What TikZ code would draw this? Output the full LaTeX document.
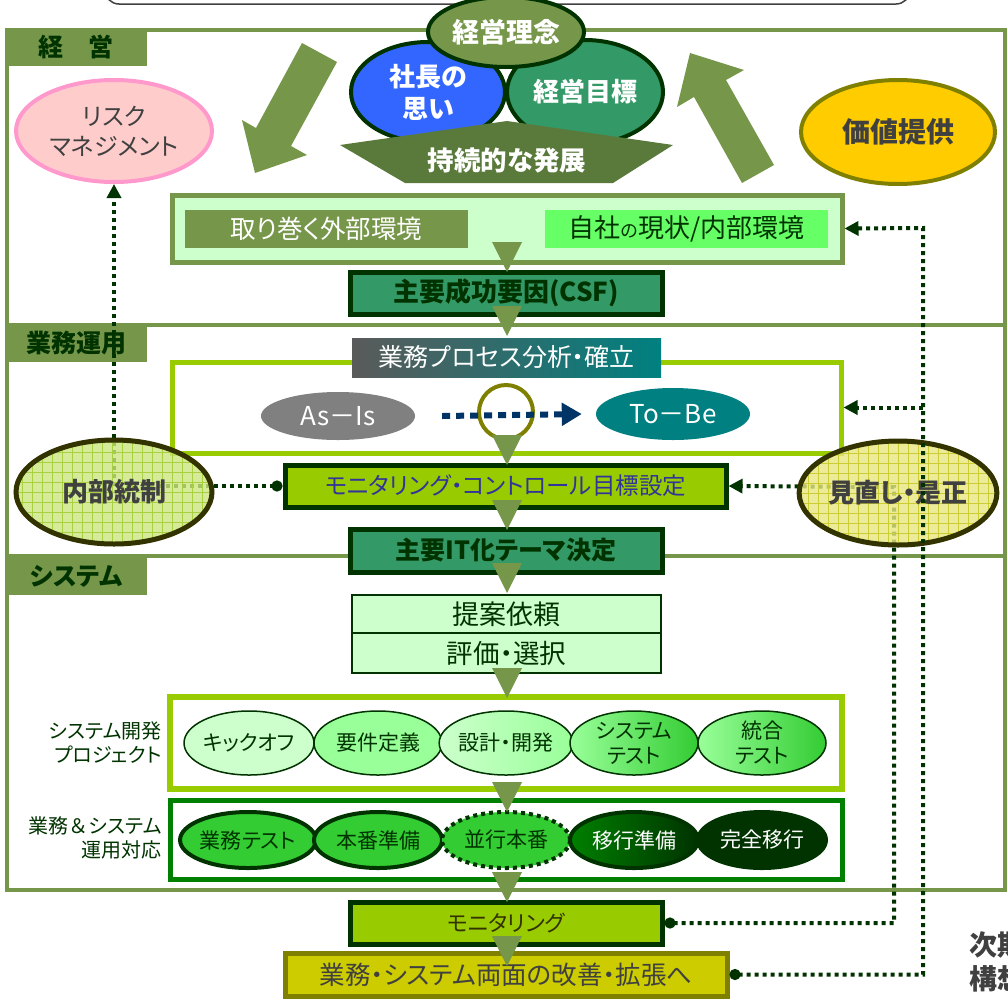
\documentclass[tikz,border=0pt]{standalone}
\usepackage{fontspec}
\setmainfont{Noto Sans CJK JP}[RawFeature=+palt]
\newfontfamily\jpfull{Noto Sans CJK JP}
\usetikzlibrary{positioning,shapes.geometric,arrows.meta,calc}
\definecolor{olv}{HTML}{76964A}
\definecolor{dolv}{HTML}{5A7A3C}
\definecolor{dkg}{HTML}{003300}
\definecolor{seag}{HTML}{339966}
\definecolor{yg}{HTML}{99CC00}
\definecolor{lgr}{HTML}{CCFFCC}
\definecolor{mgr}{HTML}{99FF99}
\definecolor{vgr}{HTML}{33CC33}
\definecolor{bgr}{HTML}{66FF66}
\definecolor{gr}{HTML}{008000}
\definecolor{oliv}{HTML}{808000}
\definecolor{txtg}{HTML}{404040}
\definecolor{brn}{HTML}{333300}
\definecolor{blu}{HTML}{3366FF}
\definecolor{pnk}{HTML}{FF99CC}
\definecolor{lpnk}{HTML}{FFCCCC}
\definecolor{gold}{HTML}{FFCC00}
\definecolor{teal2}{HTML}{008080}
\definecolor{gry}{HTML}{5A5A5A}
\definecolor{navy2}{HTML}{003366}
\definecolor{purp}{HTML}{333399}
\definecolor{ylw}{HTML}{CCCC00}
\definecolor{gfill}{HTML}{CCE680}
\definecolor{yfill}{HTML}{E6E680}
\definecolor{ggrid}{HTML}{A8D040}
\definecolor{ygrid}{HTML}{CCCC33}
\newcommand{\fsz}[1]{\fontsize{#1}{#1}\selectfont}
\tikzset{
  sect/.style={draw=olv, line width=4},
  tab/.style={fill=olv, text=dkg, font=\bfseries\fsz{25}, anchor=north west, minimum width=142, minimum height=38, inner sep=0},
  box/.style={draw=dkg, line width=5, inner sep=0, text=dkg},
  oval/.style={ellipse, inner sep=0, align=center},
  dots/.style={dkg, line width=4, dash pattern=on 4pt off 4pt},
  arrtip/.style={-{Triangle[length=14pt,width=14pt]}},
  dotarr/.style={{Circle[length=11pt]}-{Triangle[length=14pt,width=14pt]}},
  gridoval/.style={oval, draw=brn, line width=5, fill opacity=0.8, text opacity=1, minimum width=196, minimum height=104, font=\bfseries\fsz{26}, text=txtg},
  pa/.style={fill=lgr}, pb/.style={fill=mgr}, pc/.style={left color=lgr, right color=mgr},
  pd/.style={left color=mgr, right color=vgr},
  opsoval/.style={oval, draw=dkg, line width=4, minimum width=128, minimum height=56, text=dkg, font=\fsz{21}},
}
\begin{document}
\begin{tikzpicture}[x=1pt,y=-1pt]
  \useasboundingbox (0,0) rectangle (1008,1002);
  \draw[txtg, line width=1.5, rounded corners=14] (105,-40) rectangle (910,4);
  % sections
  \draw[sect] (7,30) rectangle (1005,325);
  \draw[sect] (7,325) rectangle (1005,556);
  \draw[sect] (7,556) rectangle (1005,890);
  \node[tab] (t1) at (5,28) {経\quad 営};
  \node[tab] (t2) at (5,324) {業務運用};
  \node[tab] (t3) at (5,557) {システム};
  % big arrows
  \fill[olv] (302,43) -- (256,128) -- (242,120) -- (255,173) -- (307,155) -- (291,146) -- (337,62) -- cycle;
  \fill[olv] (742,183) -- (694,97) -- (677,107) -- (690,53) -- (744,70) -- (726,80) -- (774,165) -- cycle;
  % management cluster
  \node[oval, draw=dkg, line width=4, fill=blu, minimum width=154, minimum height=100, text=white, font=\bfseries\fontsize{26}{32}\selectfont] (omoi) at (428,92) {社長の\\思い};
  \node[oval, draw=dkg, line width=4, fill=seag, minimum width=156, minimum height=104, text=white, font=\bfseries\fsz{26}] (mokuhyo) at (585,92) {経営目標};
  \fill[dolv] (340,145) -- (507,121) -- (673,145) -- (613,183) -- (405,183) -- cycle;
  \node[text=white, font=\bfseries\fsz{26.5}] (hatten) at (507,160) {持続的な発展};
  \node[oval, draw=dkg, line width=4, fill=olv, minimum width=156, minimum height=70, text=white, font=\bfseries\fsz{27}] (rinen) at (506,32) {経営理念};
  \node[oval, draw=pnk, line width=4, fill=lpnk, minimum width=196, minimum height=102, text=txtg, font=\fontsize{24}{30}\selectfont] (risk) at (114,131) {リスク\\マネジメント};
  \node[oval, draw=oliv, line width=4, fill=gold, minimum width=194, minimum height=104, text=txtg, font=\bfseries\fsz{28}] (kachi) at (898,132) {価値提供};
  % environment
  \node[draw=olv, line width=5, fill=lgr, minimum width=670, minimum height=67, inner sep=0] (env) at (507,228.5) {};
  \node[fill=olv, text=white, minimum width=283, minimum height=38, inner sep=0, font=\fsz{25.5}] (gaibu) at (326.5,229) {取り巻く外部環境};
  \node[fill=bgr, text=dkg, minimum width=283, minimum height=38, inner sep=0, font=\fsz{26}] (naibukk) at (686.5,229) {自社{\fsz{18}の}現状/内部環境};
  \node[box, fill=seag, minimum width=312, minimum height=42, font=\bfseries\fsz{26}] (csf) at (506,293) {主要成功要因(CSF)};
  % process
  \node[draw=yg, line width=5, fill=white, minimum width=669, minimum height=91, inner sep=0] (pbox) at (506.5,407.5) {};
  \node[left color=gry, right color=teal2, text=white, minimum width=309, minimum height=39, inner sep=0, font=\fsz{25}] (bpa) at (506.5,357.5) {業務プロセス分析・確立};
  \node[oval, fill=gray, text=white, minimum width=154, minimum height=48, font=\jpfull\fsz{26}] (asis) at (338,416) {As－Is};
  \node[oval, fill=teal2, text=white, minimum width=154, minimum height=52, font=\jpfull\fsz{26}] (tobe) at (673,414) {To－Be};
  \node[circle, draw=oliv, line width=4, minimum size=54, inner sep=0] (ring) at (506,412) {};
  \draw[navy2, line width=6, dash pattern=on 8pt off 6pt, -{Triangle[length=20pt,width=22pt]}] ([xshift=27]asis.east) -- ([xshift=-14]tobe.west);
  \node[box, fill=yg, minimum width=441, minimum height=42, text=purp, font=\fsz{23.5}] (mctl) at (505.5,486) {モニタリング・コントロール目標設定};
  \node[box, fill=seag, minimum width=312, minimum height=43, font=\bfseries\fsz{25}] (itka) at (506,550.5) {主要IT化テーマ決定};
  % system
  \node[draw=dkg, line width=1.5, fill=lgr, minimum width=309, minimum height=38, inner sep=0, text=dkg, font=\fsz{27}] (teian) at (506.5,614) {提案依頼};
  \node[draw=dkg, line width=1.5, fill=lgr, minimum width=309, minimum height=40, inner sep=0, text=dkg, font=\fsz{26.5}] (hyoka) at (506.5,653) {評価・選択};
  \node[draw=yg, line width=6, fill=white, minimum width=672, minimum height=92, inner sep=0] (proj) at (506,743) {};
  \node[anchor=east, align=right, text=dkg, font=\fontsize{20}{24}\selectfont] (projlbl) at (165,743) {システム開発\\プロジェクト};
  \foreach \cx/\st/\lab in {249/pa/キックオフ, 378/pb/要件定義, 506/pc/設計・開発, 634/pd/{システム\\テスト}, 762/pd/{統合\\テスト}}
    \node[oval, draw=dkg, line width=1.5, minimum width=128, minimum height=64, text=dkg, font=\fontsize{21}{25}\selectfont, \st] (ph\cx) at (\cx,743) {\lab};
  \node[draw=gr, line width=5, fill=white, minimum width=672, minimum height=79, inner sep=0] (ops) at (506,839.5) {};
  \node[anchor=east, align=right, text=dkg, font=\fontsize{20}{24}\selectfont] (opslbl) at (165,838) {{\jpfull 業務＆}システム\\運用対応};
  \node[opsoval, fill=vgr] (gtest) at (248,840) {業務テスト};
  \node[opsoval, fill=vgr] (honban) at (378,840) {本番準備};
  \node[opsoval, fill=vgr, dash pattern=on 4pt off 4pt] (heiko) at (506,840) {並行本番};
  \node[opsoval, left color=gr, right color=dkg, text=white] (ikoj) at (634,840) {移行準備};
  \node[opsoval, fill=dkg, text=white] (kanzen) at (762,840) {完全移行};
  % bottom
  \node[box, fill=yg, minimum width=312, minimum height=42, text=brn, font=\fsz{22}] (mon) at (506,923) {モニタリング};
  \node[draw=oliv, line width=5, fill=ylw, minimum width=442, minimum height=43, inner sep=0, text=txtg, font=\fsz{25.5}] (kaizen) at (506,974.5) {業務・システム両面の改善・拡張へ};
  \node[anchor=north west, align=left, text=txtg, font=\bfseries\fontsize{28}{34}\selectfont] (jiki) at (966,928) {次期\\構想};
  % flow triangles
  \foreach \ty in {242,306,435,500,563,668,782,872,936}
    \fill[olv] (492,\ty) -- (522,\ty) -- (507,\ty+30) -- cycle;
  % feedback lines
  \coordinate (r1) at (894,487);
  \coordinate (r2) at (923,228);
  \draw[dots, dotarr] (mctl.west) -| (risk.south);
  \draw[dots, dotarr] (mon.east) -| (r1) -- (mctl.east);
  \node[gridoval, fill=gfill, path picture={\draw[ggrid, line width=0.7, step=10pt] (path picture bounding box.south west) grid (path picture bounding box.north east);}] (naibu) at (114,492) {内部統制};
  \node[gridoval, fill=yfill, path picture={\draw[ygrid, line width=0.7, step=10pt] (path picture bounding box.south west) grid (path picture bounding box.north east);}] (minaoshi) at (898,493) {見直し・是正};
  \draw[dots, dotarr] (kaizen.east) -| (r2) -- (env.east);
  \draw[dots, arrtip] (r2 |- pbox.east) -- (pbox.east);
\end{tikzpicture}
\end{document}
